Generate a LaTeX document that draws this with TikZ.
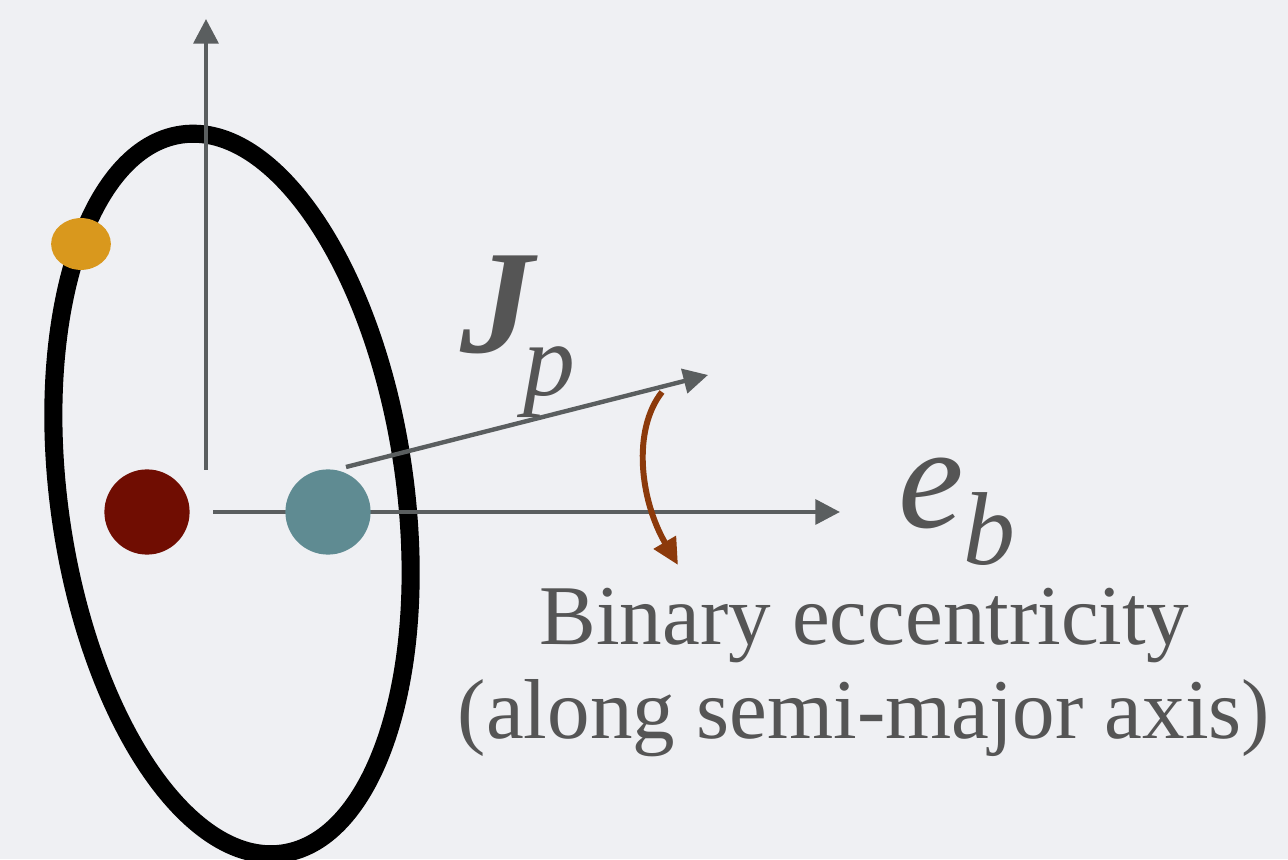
\documentclass[tikz,border=0pt]{standalone}
\usepackage{fontspec}
\setmainfont{Liberation Serif}
\usetikzlibrary{arrows.meta,positioning,shapes.geometric}
\definecolor{bgGray}{RGB}{239,240,243}
\definecolor{axisGray}{RGB}{90,94,95}
\definecolor{textGray}{RGB}{85,85,85}
\definecolor{starRed}{RGB}{112,13,2}
\definecolor{starTeal}{RGB}{95,139,146}
\definecolor{planetGold}{RGB}{217,152,29}
\definecolor{tiltBrown}{RGB}{140,58,11}

\begin{document}
\begin{tikzpicture}[x=0.02cm, y=0.02cm,
    axis/.style={draw=axisGray, line width=2.5pt, -{Triangle[length=14pt, width=14pt]}},
    star/.style={circle, minimum size=48.5pt, inner sep=0pt}]
    % Background
    \fill[bgGray] (0,0) rectangle (1288,859);
    \useasboundingbox (0,0) rectangle (1288,859);

    % Orbit of the planet
    \draw[black, line width=10.3pt, rotate around={8:(232,365)}] (232,365) ellipse [x radius=173, y radius=363];

    % Axes
    \coordinate (vbase) at (206,389);
    \coordinate (vtip) at (206,840);
    \coordinate (hbase) at (213,347);
    \coordinate (htip) at (840,347);
    \draw[axis] (vbase) -- (vtip);
    \draw[axis] (hbase) -- (htip);

    % Binary stars and planet
    \node[star, fill=starRed] (primary) at (147,347) {};
    \node[star, fill=starTeal] (secondary) at (328,347) {};
    \node[ellipse, fill=planetGold, minimum width=34pt, minimum height=29.5pt, inner sep=0pt] (planet) at (81,615) {};

    % Angular momentum of the planet
    \coordinate (jbase) at (346,392);
    \coordinate (jtip) at (708,484);
    \draw[axis] (jbase) -- (jtip);
    \node[textGray, anchor=base west, inner sep=0pt, font=\fontsize{84}{84}\selectfont\itshape] (jlabel) at (460,506)
        {\textbf{J}\kern-6pt\raisebox{-24pt}{\fontsize{59}{59}\selectfont p}};

    % Tilt between the two vectors
    \coordinate (tiltstart) at (662,467);
    \coordinate (tiltend) at (678,294);
    \draw[tiltBrown, line width=3.4pt, -{Triangle[length=15pt, width=14pt]}]
        (tiltstart) .. controls (632,429) and (640,359) .. (tiltend);

    % Eccentricity vector
    \node[textGray, anchor=base west, inner sep=0pt, font=\fontsize{84}{84}\selectfont\itshape] (elabel) at (898,331)
        {e\raisebox{-21pt}{\fontsize{59}{59}\selectfont b}};
    \node[textGray, anchor=base, inner sep=0pt, align=center, font=\fontsize{48.4}{53.3}\selectfont] (ecaption) at (864,121)
        {Binary eccentricity\\(along semi-major axis)};
\end{tikzpicture}
\end{document}
